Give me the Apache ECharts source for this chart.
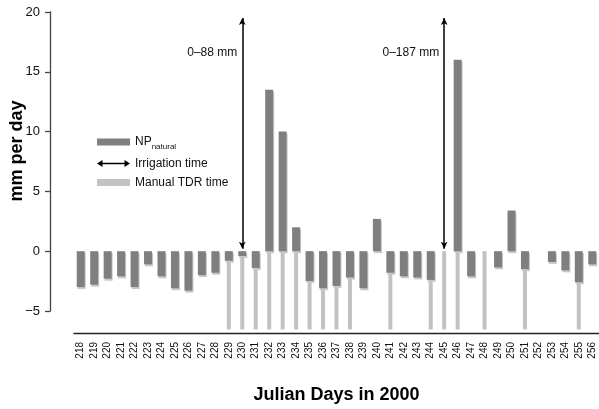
<!DOCTYPE html>
<html>
<head>
<meta charset="utf-8">
<script src="https://cdn.jsdelivr.net/npm/echarts@6/dist/echarts.min.js"></script>
<style>html,body{margin:0;padding:0;background:#fff}#c{width:599px;height:409px}</style>
</head>
<body>
<div id="c"></div>
<script>
var days = ['218','219','220','221','222','223','224','225','226','227','228','229','230','231','232','233','234','235','236','237','238','239','240','241','242','243','244','245','246','247','248','249','250','251','252','253','254','255','256'];
var npNatural = [-3.0,-2.8,-2.3,-2.1,-3.0,-1.1,-2.1,-3.1,-3.3,-2.0,-1.8,-0.8,-0.4,-1.4,13.5,10.0,2.0,-2.5,-3.1,-2.9,-2.2,-3.1,2.7,-1.8,-2.1,-2.2,-2.4,0,16.0,-2.1,0,-1.35,3.4,-1.5,null,-0.9,-1.6,-2.6,-1.1];
var tdrDays = ['229','230','231','232','233','234','235','236','237','238','241','244','245','246','248','251','255'];
var tdrLevel = -6.55;
var irrigationDays = ['230','245'];
var irrigationLabels = ['0\u201388 mm','0\u2013187 mm'];
var arrowFrom = 0.2, arrowTo = 19.5, labelLevel = 16.6;
var yTicks = {min:-5, max:20, interval:5};

var tdrData = days.map(function(d){ return tdrDays.indexOf(d) >= 0 ? tdrLevel : null; });
var FONT = 'Liberation Sans';

var chart = echarts.init(document.getElementById('c'), null, {renderer:'canvas'});
chart.setOption({
  animation:false,
  textStyle:{fontFamily:FONT},
  grid:[
    {left:74, right:0, top:12, height:321},
    {left:50, width:1, top:12, height:299}
  ],
  xAxis:[
    {type:'category', gridIndex:0, data:days, position:'bottom',
     axisLine:{onZero:false, lineStyle:{color:'#222', width:1.3}},
     axisTick:{show:false},
     axisLabel:{rotate:90, fontSize:10, color:'#111', margin:9, fontFamily:FONT, interval:0},
     name:'Julian Days in 2000', nameLocation:'middle', nameGap:53,
     nameTextStyle:{fontSize:18, fontWeight:'bold', color:'#000', fontFamily:FONT}},
    {type:'category', gridIndex:1, data:['a'], show:false},
    {type:'category', gridIndex:0, data:days, show:false}
  ],
  yAxis:[
    {type:'value', gridIndex:0, min:-6.84, max:20, show:false},
    {type:'value', gridIndex:1, min:yTicks.min, max:yTicks.max, interval:yTicks.interval,
     axisLine:{show:true, lineStyle:{color:'#444', width:1.3}},
     axisTick:{show:true, length:5, lineStyle:{color:'#444', width:1.3}},
     splitLine:{show:false},
     axisLabel:{fontSize:13, color:'#111', margin:10, fontFamily:FONT,
       formatter:function(v){ return String(v).replace('-', '\u2212'); }}}
  ],
  legend:{
    orient:'vertical', left:97, top:136, padding:0, itemWidth:33, itemHeight:7, itemGap:7,
    textStyle:{fontSize:12, color:'#111', fontFamily:FONT,
      rich:{a:{fontSize:12, color:'#111', fontFamily:FONT},
            b:{fontSize:8, color:'#111', fontFamily:FONT, padding:[9,0,0,0]}}},
    formatter:function(n){ return n === 'NP' ? '{a|NP}{b|natural}' : n; },
    data:[
      {name:'NP', icon:'rect'},
      {name:'Irrigation time', icon:'path://M0,35L55,0L55,28L275,28L275,0L330,35L275,70L275,42L55,42L55,70Z'},
      {name:'Manual TDR time', icon:'rect'}
    ]
  },
  graphic:[
    {type:'text', x:17, y:151, rotation:Math.PI/2,
     style:{text:'mm per day', fill:'#000', font:'bold 18px "Liberation Sans"', align:'center', verticalAlign:'middle'}}
  ],
  series:[
    {name:'Manual TDR time', type:'bar', xAxisIndex:2, yAxisIndex:0, data:tdrData,
     barWidth:4, itemStyle:{color:'#c2c2c2'}, z:1},
    {name:'NP', type:'bar', xAxisIndex:0, yAxisIndex:0, data:npNatural,
     barWidth:8, z:2,
     itemStyle:{color:'#7f7f7f', shadowColor:'#c8c8c8', shadowOffsetX:1, shadowOffsetY:2, shadowBlur:0}},
    {name:'Irrigation time', type:'line', xAxisIndex:0, yAxisIndex:0, data:[], z:3,
     color:'#000', itemStyle:{color:'#000'}, lineStyle:{color:'#000'},
     markLine:{
       silent:true, symbol:['arrow','arrow'], symbolSize:[5,7],
       lineStyle:{color:'#000', width:1.5, type:'solid'},
       label:{show:false},
       data: irrigationDays.map(function(d){ return [{coord:[d, arrowFrom]},{coord:[d, arrowTo]}]; })
     },
     markPoint:{
       silent:true, symbol:'rect', symbolSize:0,
       label:{show:true, position:'left', distance:5, fontSize:12, color:'#111', fontFamily:FONT, formatter:'{b}'},
       data: irrigationDays.map(function(d,i){ return {name:irrigationLabels[i], coord:[d, labelLevel]}; })
     }}
  ]
});
</script>
</body>
</html>
